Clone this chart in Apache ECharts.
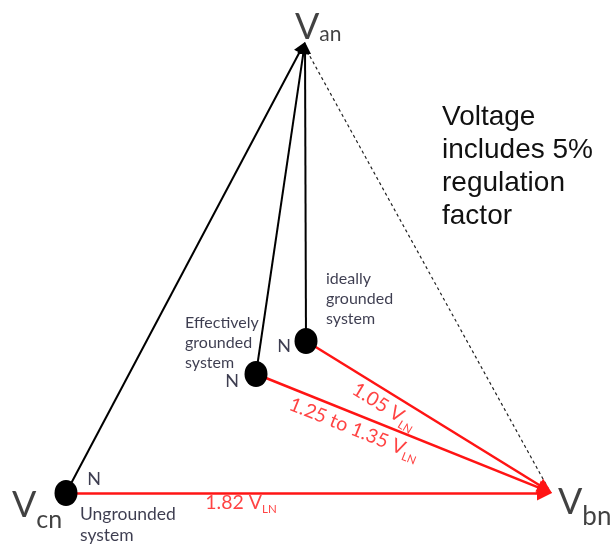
<!DOCTYPE html>
<html>
<head>
    <meta charset="utf-8">
    <title>Neutral shift</title>
    <script src="https://cdn.jsdelivr.net/npm/echarts@6/dist/echarts.min.js"></script>
    <style>
        html, body { margin: 0; padding: 0; background: #fff; }
        #main { width: 613px; height: 545px; }
    </style>
</head>
<body>
<div id="main"></div>
<script type="text/javascript">
    // phasor tips: an, bn, cn
    const phasorNames = ['an', 'bn', 'cn'];
    const phasorX = [305, 552, 66];
    const phasorY = [42, 493, 493];

    // neutral points: ungrounded, effectively grounded, ideally grounded
    const systemNames = ['Ungrounded\nsystem', 'Effectively\ngrounded\nsystem', 'ideally\ngrounded\nsystem'];
    const neutralX = [66, 256, 306];
    const neutralY = [493, 374, 341];

    // N -> Vbn voltage
    const ratioText = ['1.82', '1.25 to 1.35', '1.05'];

    const noteLines = ['Voltage', 'includes 5%', 'regulation', 'factor'];

    const chart = echarts.init(document.getElementById('main'));

    const textColor = '#0c0c24';
    const red = '#ff1414';
    const smallFont = 'Lato';
    const blackArrow = [8, 12];
    const redArrow = [11, 15];

    // end of a segment pulled back so the arrow tip lands on the target
    function arrowLine(x0, y0, x1, y1, h) {
        const dx = x1 - x0, dy = y1 - y0;
        const len = Math.sqrt(dx * dx + dy * dy);
        return {coords: [[x0, y0], [x1 - dx / len * h / 2, y1 - dy / len * h / 2]]};
    }

    const blackLines = neutralX.map(function (x, i) {
        return arrowLine(x, neutralY[i], phasorX[0], phasorY[0], blackArrow[1]);
    });
    const redLines = neutralX.map(function (x, i) {
        return arrowLine(x, neutralY[i], phasorX[1], phasorY[1], redArrow[1]);
    });

    // label offsets (px) for system name, N letter
    const nameOffset = [[14, 10], [-71, -61], [20, -72]];
    const nameSize = [17.5, 16, 16];
    const nOffset = [[28, -14], [-24, 7], [-22, 5]];
    const ratioPerp = [12, 17, 17];
    const ratioT = [0.36, 0.35, 0.35];

    const ratioData = ratioText.map(function (t, i) {
        const x0 = neutralX[i], y0 = neutralY[i];
        const dx = phasorX[1] - x0, dy = phasorY[1] - y0;
        const len = Math.sqrt(dx * dx + dy * dy);
        const px = x0 + ratioT[i] * dx - dy / len * ratioPerp[i];
        const py = y0 + ratioT[i] * dy + dx / len * ratioPerp[i];
        return {
            value: [px, py],
            label: {
                formatter: '{r|' + t + ' V}{s|LN}',
                rotate: -Math.atan2(dy, dx) * 180 / Math.PI
            }
        };
    });

    const vOffset = [[-10, 3], [6, 37], [-54, 39]];
    const vPad = [0, 10, 9];
    const subSize = [21, 26, 25];

    const option = {
        animation: false,
        title: {
            text: noteLines.join('\n'),
            left: 442,
            top: 101,
            padding: 0,
            textStyle: {
                fontFamily: 'Liberation Sans',
                fontWeight: 'normal',
                fontSize: 28,
                lineHeight: 33,
                color: '#111'
            }
        },
        grid: {left: 0, right: 0, top: 0, bottom: 0},
        xAxis: {type: 'value', min: 0, max: 613, show: false},
        yAxis: {type: 'value', min: 0, max: 545, inverse: true, show: false},
        series: [
            {
                type: 'lines',
                coordinateSystem: 'cartesian2d',
                z: 2,
                symbol: ['none', 'none'],
                lineStyle: {color: '#222', width: 1.2, type: [3, 3], opacity: 1},
                data: [{coords: [[phasorX[0] + 2, phasorY[0] + 9], [phasorX[1] - 4, phasorY[1] - 5]]}]
            },
            {
                type: 'lines',
                coordinateSystem: 'cartesian2d',
                z: 3,
                symbol: ['none', 'triangle'],
                symbolSize: blackArrow,
                lineStyle: {color: '#000', width: 2, opacity: 1},
                data: blackLines
            },
            {
                type: 'lines',
                coordinateSystem: 'cartesian2d',
                z: 3,
                symbol: ['none', 'triangle'],
                symbolSize: redArrow,
                lineStyle: {color: red, width: 2.5, opacity: 1},
                data: redLines
            },
            {
                // neutral dots
                type: 'scatter',
                z: 5,
                symbol: 'circle',
                symbolSize: [23, 26],
                itemStyle: {color: '#000', opacity: 1},
                data: neutralX.map(function (x, i) { return [x, neutralY[i]]; })
            },
            {
                // system names
                type: 'scatter',
                z: 6,
                symbolSize: 0,
                silent: true,
                data: neutralX.map(function (x, i) {
                    return {
                        value: [x, neutralY[i]],
                        label: {
                            formatter: systemNames[i],
                            offset: nameOffset[i],
                            fontSize: nameSize[i],
                            lineHeight: nameSize[i] * 1.25
                        }
                    };
                }),
                label: {
                    show: true,
                    position: 'inside',
                    align: 'left',
                    verticalAlign: 'top',
                    fontFamily: smallFont,
                    color: textColor
                }
            },
            {
                // N letters
                type: 'scatter',
                z: 6,
                symbolSize: 0,
                silent: true,
                data: neutralX.map(function (x, i) {
                    return {value: [x, neutralY[i]], label: {offset: nOffset[i]}};
                }),
                label: {
                    show: true,
                    position: 'inside',
                    align: 'center',
                    verticalAlign: 'middle',
                    formatter: 'N',
                    fontFamily: smallFont,
                    fontSize: 18,
                    color: textColor
                }
            },
            {
                // ratios along red lines
                type: 'scatter',
                z: 6,
                symbolSize: 0,
                silent: true,
                data: ratioData,
                label: {
                    show: true,
                    position: 'inside',
                    align: 'center',
                    verticalAlign: 'middle',
                    rich: {
                        r: {fontFamily: smallFont, fontSize: 19.5, lineHeight: 21, color: red, verticalAlign: 'bottom', padding: [0, 0, 3, 0]},
                        s: {fontFamily: smallFont, fontSize: 11.5, lineHeight: 12, color: red, verticalAlign: 'bottom'}
                    }
                }
            },
            {
                // phasor names
                type: 'scatter',
                z: 6,
                symbolSize: 0,
                silent: true,
                data: phasorX.map(function (x, i) {
                    return {
                        value: [x, phasorY[i]],
                        label: {
                            formatter: '{v' + i + '|V}{s' + i + '|' + phasorNames[i] + '}',
                            offset: vOffset[i]
                        }
                    };
                }),
                label: {
                    show: true,
                    position: 'inside',
                    align: 'left',
                    verticalAlign: 'bottom',
                    rich: (function () {
                        const r = {};
                        phasorNames.forEach(function (n, i) {
                            r['v' + i] = {fontFamily: smallFont, fontSize: 36, lineHeight: 36, color: '#111', verticalAlign: 'bottom', padding: [0, 0, vPad[i], 0]};
                            r['s' + i] = {fontFamily: smallFont, fontSize: subSize[i], lineHeight: subSize[i], color: '#111', verticalAlign: 'bottom'};
                        });
                        return r;
                    })()
                }
            }
        ]
    };
    chart.setOption(option);
    window.addEventListener('resize', chart.resize);
</script>
</body>
</html>
